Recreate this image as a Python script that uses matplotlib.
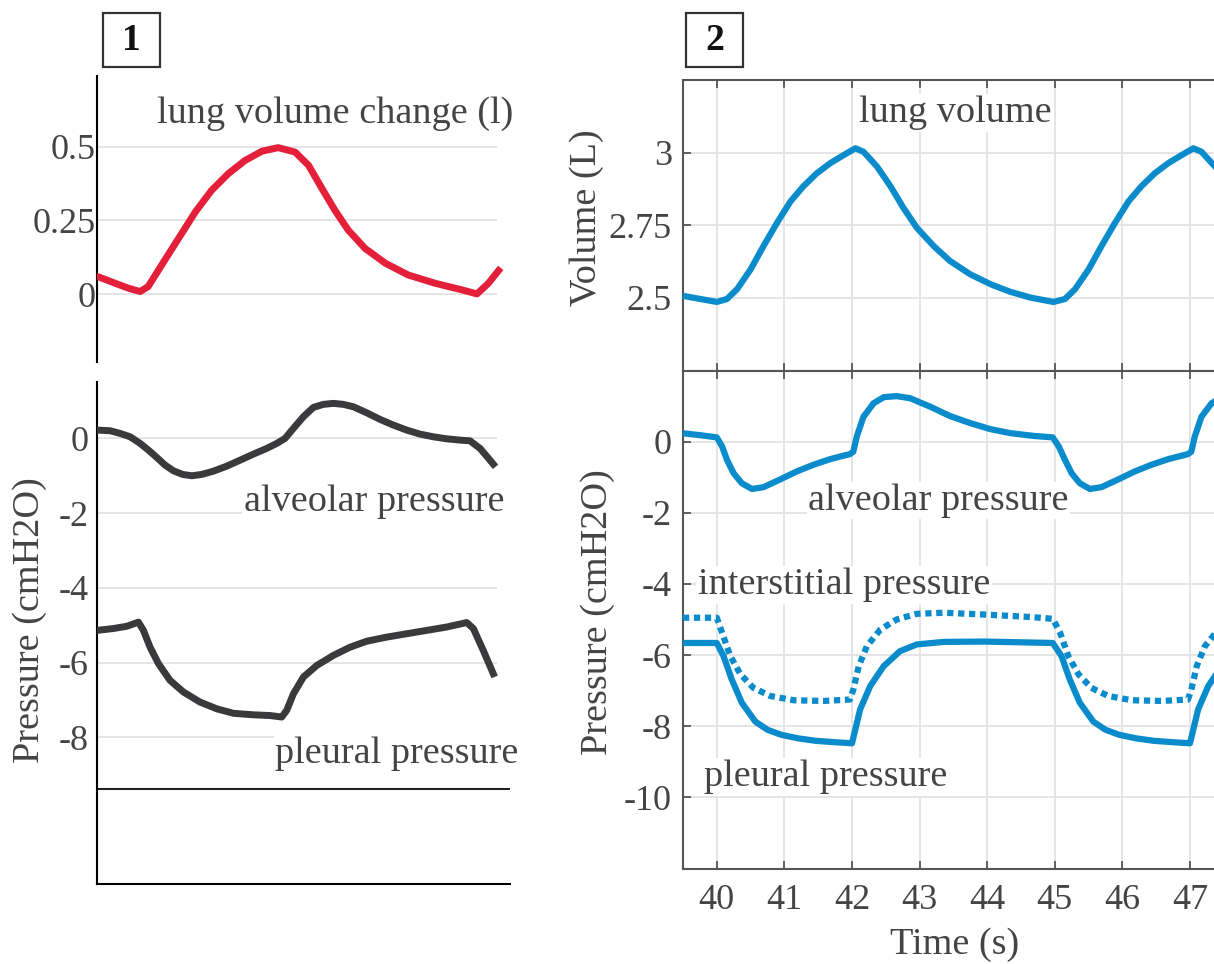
import matplotlib.pyplot as plt
from matplotlib.patches import Rectangle

plt.rcParams['font.family'] = ['Liberation Serif', 'DejaVu Serif']
plt.rcParams['axes.unicode_minus'] = False

# ---- panel 1 (schematic, time in s, one breath of ~5 s)
t_lvc = [-0.64, -0.62, -0.37, -0.17, 0.0, 0.12, 0.32, 0.57, 0.82, 1.06, 1.31, 1.56,
         1.81, 2.05, 2.30, 2.50, 2.70, 2.89, 3.09, 3.34, 3.64, 3.98, 4.38, 4.77,
         5.0, 5.17, 5.32]
lvc = [0.060, 0.059, 0.037, 0.020, 0.009, 0.026, 0.099, 0.189, 0.279, 0.352, 0.409,
       0.454, 0.485, 0.497, 0.482, 0.437, 0.358, 0.285, 0.217, 0.155, 0.105, 0.065,
       0.037, 0.015, 0.001, 0.037, 0.080]

t_alv1 = [-0.64, -0.445, -0.297, -0.148, 0.0, 0.124, 0.247, 0.371, 0.495, 0.633,
          0.767, 0.915, 1.088, 1.286, 1.484, 1.681, 1.879, 2.028, 2.151, 2.275,
          2.423, 2.572, 2.720, 2.868, 3.017, 3.165, 3.363, 3.561, 3.758, 3.956,
          4.154, 4.352, 4.55, 4.748, 4.896, 5.045, 5.143, 5.242]
alv1 = [0.223, 0.205, 0.134, 0.043, -0.134, -0.314, -0.51, -0.716, -0.868, -0.965,
        -1.0, -0.965, -0.877, -0.743, -0.582, -0.421, -0.268, -0.134, 0.0, 0.268,
        0.579, 0.831, 0.911, 0.938, 0.911, 0.847, 0.686, 0.509, 0.357, 0.223,
        0.115, 0.043, -0.011, -0.046, -0.064, -0.268, -0.475, -0.689]

t_ple1 = [-0.64, -0.396, -0.198, -0.025, 0.049, 0.148, 0.272, 0.445, 0.643, 0.890,
          1.138, 1.385, 1.681, 1.929, 2.102, 2.176, 2.275, 2.423, 2.621, 2.868,
          3.116, 3.363, 3.660, 3.956, 4.253, 4.55, 4.847, 4.946, 5.094, 5.242]
ple1 = [-5.14, -5.09, -5.03, -4.92, -5.14, -5.59, -6.03, -6.48, -6.79, -7.06,
        -7.24, -7.36, -7.40, -7.42, -7.46, -7.28, -6.84, -6.39, -6.08, -5.81,
        -5.59, -5.43, -5.32, -5.23, -5.14, -5.05, -4.93, -5.09, -5.68, -6.30]

# ---- panel 2 (model output)
t_vol = [39.5, 39.76, 40.0, 40.15, 40.30, 40.50, 40.69, 40.89, 41.09, 41.28, 41.48,
         41.68, 41.88, 42.05, 42.17, 42.37, 42.57, 42.76, 42.96, 43.21, 43.45,
         43.75, 44.05, 44.34, 44.64, 44.98, 45.15, 45.30, 45.50, 45.69, 45.89,
         46.09, 46.28, 46.48, 46.68, 46.88, 47.05, 47.17, 47.37, 47.57]
vol = [2.507, 2.496, 2.486, 2.496, 2.530, 2.598, 2.678, 2.758, 2.832, 2.884, 2.929,
       2.964, 2.992, 3.015, 3.003, 2.952, 2.884, 2.810, 2.741, 2.678, 2.627,
       2.581, 2.547, 2.521, 2.501, 2.486, 2.496, 2.530, 2.598, 2.678, 2.758,
       2.832, 2.884, 2.929, 2.964, 2.992, 3.015, 3.003, 2.952, 2.884]

t_alv2 = [39.5, 39.76, 40.0, 40.08, 40.15, 40.25, 40.37, 40.52, 40.69, 40.94, 41.18,
          41.43, 41.68, 41.97, 42.02, 42.07, 42.17, 42.32, 42.47, 42.66, 42.86,
          43.16, 43.45, 43.75, 44.05, 44.34, 44.69, 44.97, 45.06, 45.15, 45.25,
          45.37, 45.52, 45.69, 45.94, 46.18, 46.43, 46.68, 46.97, 47.02, 47.07,
          47.17, 47.32, 47.47, 47.66]
alv2 = [0.235, 0.18, 0.12, -0.14, -0.51, -0.89, -1.17, -1.33, -1.28, -1.06, -0.84,
        -0.65, -0.49, -0.35, -0.28, 0.14, 0.70, 1.08, 1.25, 1.28, 1.22,
        0.98, 0.72, 0.52, 0.35, 0.24, 0.16, 0.12, -0.14, -0.51, -0.89,
        -1.17, -1.33, -1.28, -1.06, -0.84, -0.65, -0.49, -0.35, -0.28, 0.14,
        0.70, 1.08, 1.25, 1.28]

t_int = [39.5, 40.0, 40.08, 40.2, 40.35, 40.54, 40.79, 41.14, 41.58, 41.97, 42.02,
         42.10, 42.22, 42.42, 42.66, 42.96, 43.36, 43.95, 44.64, 44.97, 45.08,
         45.2, 45.35, 45.54, 45.79, 46.14, 46.58, 46.97, 47.02, 47.10, 47.22,
         47.42, 47.66]
inter = [-4.95, -4.95, -5.38, -6.03, -6.54, -6.92, -7.15, -7.27, -7.29, -7.25, -6.97,
         -6.31, -5.75, -5.28, -5.00, -4.84, -4.81, -4.86, -4.93, -4.98, -5.38,
         -6.03, -6.54, -6.92, -7.15, -7.27, -7.29, -7.25, -6.97, -6.31, -5.75,
         -5.28, -5.00]

t_ple2 = [39.5, 40.0, 40.1, 40.22, 40.37, 40.57, 40.75, 40.95, 41.2, 41.46, 41.75,
          42.0, 42.12, 42.27, 42.47, 42.71, 42.96, 43.36, 43.95, 44.97, 45.1,
          45.22, 45.37, 45.57, 45.75, 45.95, 46.2, 46.46, 46.75, 47.0, 47.12,
          47.27, 47.47, 47.71]
ple2 = [-5.66, -5.66, -6.03, -6.68, -7.34, -7.87, -8.10, -8.24, -8.34, -8.41, -8.45,
        -8.48, -7.53, -6.87, -6.31, -5.89, -5.70, -5.63, -5.62, -5.66, -6.03,
        -6.68, -7.34, -7.87, -8.10, -8.24, -8.34, -8.41, -8.45, -8.48, -7.53,
        -6.87, -6.31, -5.89]

TXT = '#444444'
GRID = '#e3e3e3'
RED = '#e41f3a'
DARK = '#3a3a3c'
BLUE = '#0a8bcb'
FS = 26

W, H = 1214, 964
fig = plt.figure(figsize=(W / 100, H / 100), dpi=100)


def px_axes(x0, y0, x1, y1):
    return fig.add_axes([x0 / W, 1 - y1 / H, (x1 - x0) / W, (y1 - y0) / H])


def label(ax, x, y, s, **kw):
    ax.text(x, y, s, fontsize=27.5, color=TXT, ha='center', va='center', zorder=5,
            bbox=dict(facecolor='white', edgecolor='none', pad=1), **kw)


# ---------------- panel 1 ----------------
ax1 = px_axes(97, 76, 510, 362)
ax1.set_xlim(-0.64, 5.49)
ax1.set_ylim(-0.23, 0.74)
ax1.hlines([0, 0.25, 0.5], -0.64, 5.30, color=GRID, lw=1.3, zorder=0)
ax1.plot(t_lvc, lvc, color=RED, lw=5, solid_joinstyle='round', zorder=3)
ax1.set_yticks([0, 0.25, 0.5], ['0', '0.25', '0.5'])
ax1.set_xticks([])
for s in ['top', 'right', 'bottom']:
    ax1.spines[s].set_visible(False)
ax1.spines['left'].set_linewidth(1.5)
ax1.tick_params(axis='y', length=0, pad=1, labelsize=FS, labelcolor=TXT)
label(ax1, 2.89, 0.612, 'lung volume change (l)')

ax2 = px_axes(97, 382, 510, 884)
ax2.set_xlim(-0.64, 5.49)
ax2.set_ylim(-11.93, 1.51)
ax2.hlines([-8, -6, -4, -2, 0], -0.64, 5.30, color=GRID, lw=1.3, zorder=0)
ax2.plot(t_alv1, alv1, color=DARK, lw=5, solid_joinstyle='round', zorder=3)
ax2.plot(t_ple1, ple1, color=DARK, lw=5, solid_joinstyle='round', zorder=3)
ax2.axhline(-9.375, color='#222222', lw=1.5)
ax2.set_yticks([-8, -6, -4, -2, 0], ['-8', '-6', '-4', '-2', '0'])
ax2.set_xticks([])
for s in ['top', 'right']:
    ax2.spines[s].set_visible(False)
ax2.spines['left'].set_linewidth(1.5)
ax2.spines['bottom'].set_linewidth(1.5)
ax2.tick_params(axis='y', length=0, pad=6, labelsize=FS, labelcolor=TXT)
label(ax2, 3.47, -1.70, 'alveolar pressure')
label(ax2, 3.81, -8.45, 'pleural pressure')

fig.text(30 / W, 1 - 620 / H, 'Pressure (cmH2O)', rotation=90, fontsize=27.5,
         color=TXT, ha='center', va='center')

# ---------------- panel 2 ----------------
x_right = 683 + (48 - 39.5) * 67.6
ax3 = px_axes(683, 80, x_right, 370.5)
ax4 = px_axes(683, 370.5, x_right, 868.5)

for ax in (ax3, ax4):
    ax.set_xlim(39.5, 48)
    ax.set_xticks(range(40, 49))
    ax.grid(True, color=GRID, lw=1.3)
    ax.set_axisbelow(True)
    for s in ax.spines.values():
        s.set_color('#555555')
        s.set_linewidth(1.5)
    ax.tick_params(direction='in', top=True, right=True, length=6, width=1.3,
                   color='#555555', labelsize=FS, labelcolor=TXT)
    ax.tick_params(axis='y', pad=8)
    ax.tick_params(axis='x', pad=11)

ax3.set_ylim(2.25, 3.25)
ax3.set_yticks([2.5, 2.75, 3], ['2.5', '2.75', '3'])
ax3.tick_params(axis='x', labelbottom=False)
ax3.plot(t_vol, vol, color=BLUE, lw=4.5, solid_joinstyle='round', zorder=3)
label(ax3, 43.53, 3.136, 'lung volume')

ax4.set_ylim(-12, 2)
ax4.set_yticks([-10, -8, -6, -4, -2, 0], ['-10', '-8', '-6', '-4', '-2', '0'])
ax4.set_xticklabels([str(v) for v in range(40, 49)])
ax4.plot(t_alv2, alv2, color=BLUE, lw=4.5, solid_joinstyle='round', zorder=3)
ax4.plot(t_int, inter, color=BLUE, lw=4.5, linestyle=(0, (1.0, 0.75)),
         dash_capstyle='butt', zorder=3)
ax4.plot(t_ple2, ple2, color=BLUE, lw=4.5, solid_joinstyle='round', zorder=3)
label(ax4, 43.28, -1.65, 'alveolar pressure')
label(ax4, 41.88, -4.03, 'interstitial pressure')
label(ax4, 41.61, -9.43, 'pleural pressure')

fig.text(587 / W, 1 - 218 / H, 'Volume (L)', rotation=90, fontsize=27.5,
         color=TXT, ha='center', va='center')
fig.text(598 / W, 1 - 612 / H, 'Pressure (cmH2O)', rotation=90, fontsize=27.5,
         color=TXT, ha='center', va='center')
fig.text(955 / W, 1 - 945 / H, 'Time (s)', fontsize=27.5,
         color=TXT, ha='center', va='center')

# panel number boxes
for x0, num in [(103, '1'), (686, '2')]:
    fig.patches.append(Rectangle((x0 / W, 1 - 67 / H), 57 / W, 54 / H,
                                 transform=fig.transFigure, fill=False,
                                 edgecolor='#333333', lw=1.6))
    fig.text((x0 + 28.5) / W, 1 - 41 / H, num, fontsize=27, fontweight='bold',
             color='#111111', ha='center', va='center')

fig.savefig('out.png', dpi=100)
